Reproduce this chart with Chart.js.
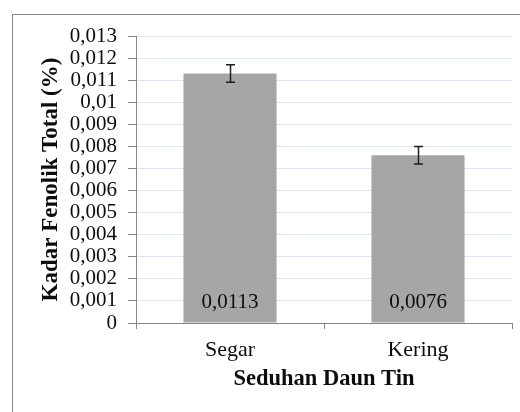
<!DOCTYPE html>
<html>
<head>
<meta charset="utf-8">
<script src="https://cdn.jsdelivr.net/npm/chart.js@4/dist/chart.umd.min.js"></script>
<style>
  html, body { margin: 0; padding: 0; background: #ffffff; }
  #wrap { width: 520px; height: 412px; position: relative; }
</style>
</head>
<body>
<div id="wrap"><canvas id="c" width="520" height="412"></canvas></div>
<script>
// ---- data ----
const categories = ['Segar', 'Kering'];
const values = [0.0113, 0.0076];
const errors = [0.0004, 0.0004];
const valueLabels = ['0,0113', '0,0076'];
const yTickLabels = ['0', '0,001', '0,002', '0,003', '0,004', '0,005', '0,006',
                     '0,007', '0,008', '0,009', '0,01', '0,011', '0,012', '0,013'];
const xTitle = 'Seduhan Daun Tin';
const yTitle = 'Kadar Fenolik Total (%)';

const FONT = "'Liberation Serif', 'Times New Roman', serif";
const AXIS = '#868686';
const GRID = '#dce6f2';
const TEXT = '#0d0d0d';

const frame = {
  id: 'frame',
  beforeDraw(chart) {
    const ctx = chart.ctx;
    ctx.save();
    ctx.fillStyle = '#ffffff';
    ctx.fillRect(0, 0, chart.width, chart.height);
    ctx.strokeStyle = '#888888';
    ctx.lineWidth = 1;
    ctx.strokeRect(12.5, 14.5, 600, 500);
    ctx.restore();
  }
};

const extras = {
  id: 'extras',
  afterDatasetsDraw(chart) {
    const ctx = chart.ctx;
    const ys = chart.scales.y;
    const meta = chart.getDatasetMeta(0);
    ctx.save();
    // value labels
    ctx.fillStyle = TEXT;
    ctx.font = '21px ' + FONT;
    ctx.textAlign = 'center';
    ctx.textBaseline = 'alphabetic';
    meta.data.forEach((bar, i) => {
      ctx.fillText(valueLabels[i], bar.x, ys.bottom - 15);
    });
    // error bars
    ctx.strokeStyle = '#1e1e1e';
    ctx.lineWidth = 1.5;
    meta.data.forEach((bar, i) => {
      const x = Math.round(bar.x) + 0.5;
      const yHi = ys.getPixelForValue(values[i] + errors[i]);
      const yLo = ys.getPixelForValue(values[i] - errors[i]);
      ctx.beginPath();
      ctx.moveTo(x, yHi); ctx.lineTo(x, yLo);
      ctx.moveTo(x - 4.5, yHi); ctx.lineTo(x + 4.5, yHi);
      ctx.moveTo(x - 4.5, yLo); ctx.lineTo(x + 4.5, yLo);
      ctx.stroke();
    });
    ctx.restore();
  }
};

new Chart(document.getElementById('c'), {
  type: 'bar',
  data: {
    labels: categories,
    datasets: [{
      data: values,
      backgroundColor: '#a6a6a6',
      borderWidth: 0,
      categoryPercentage: 1.0,
      barPercentage: 0.495
    }]
  },
  options: {
    responsive: false,
    animation: false,
    devicePixelRatio: 1,
    layout: { padding: { left: 0, right: 8, top: 36, bottom: 0 } },
    plugins: { legend: { display: false }, tooltip: { enabled: false } },
    scales: {
      x: {
        offset: true,
        grid: { display: true, drawOnChartArea: false, drawTicks: true, tickLength: 6, tickColor: AXIS, offset: true },
        border: { color: AXIS, width: 1 },
        ticks: { color: TEXT, font: { family: FONT, size: 22 }, padding: 8 },
        title: { display: true, text: xTitle, color: TEXT, font: { family: FONT, size: 22.5, weight: 'bold' }, padding: { top: 0, bottom: 19 } },
        afterFit(s) { s.height = 89; }
      },
      y: {
        min: 0, max: 0.013,
        ticks: {
          stepSize: 0.001,
          autoSkip: false,
          color: TEXT,
          font: { family: FONT, size: 21 },
          padding: 11,
          callback: (v, i) => yTickLabels[i] !== undefined ? yTickLabels[i] : String(v).replace('.', ',')
        },
        grid: { color: GRID, lineWidth: 1, tickLength: 8, tickColor: AXIS },
        border: { color: AXIS, width: 1 },
        title: { display: true, text: yTitle, color: TEXT, font: { family: FONT, size: 23, weight: 'bold' }, padding: { top: 37, bottom: 0 } },
        afterFit(s) { s.width = 136; }
      }
    }
  },
  plugins: [frame, extras]
});
</script>
</body>
</html>
